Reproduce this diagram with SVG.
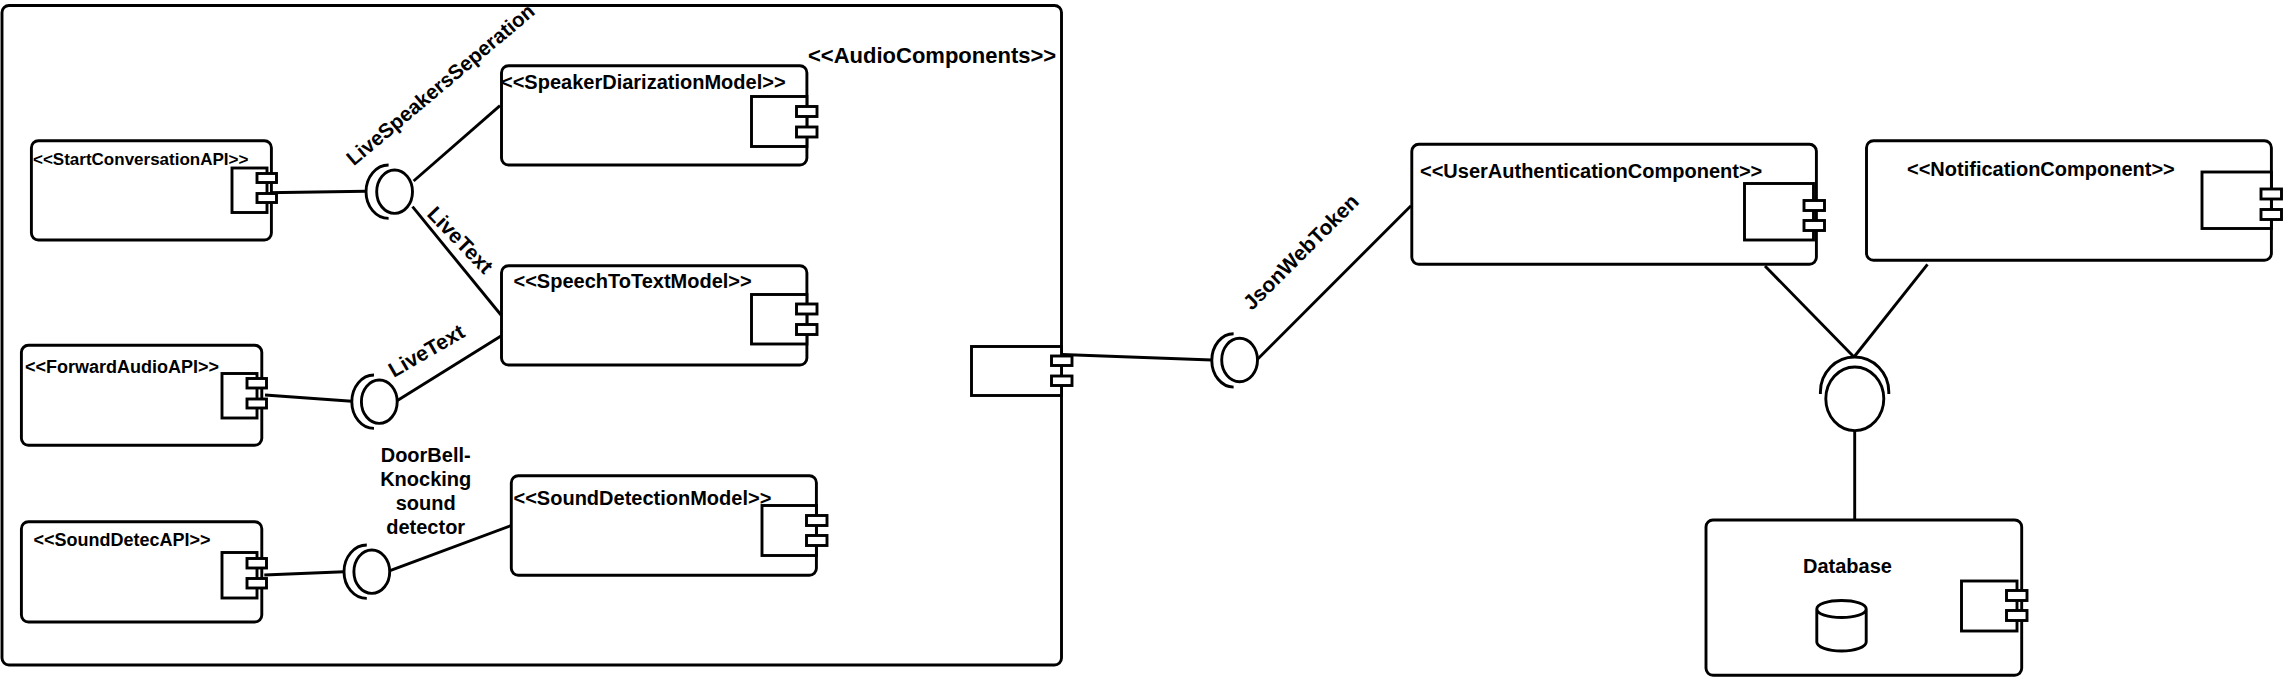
<svg xmlns="http://www.w3.org/2000/svg" width="2283" height="677" viewBox="0 0 2283 677">
<style>
rect,ellipse,path,line{stroke:#000;stroke-width:2.9;fill:#fff}
path.o{fill:none}
text{font-family:"Liberation Sans",Arial,sans-serif;font-weight:bold;font-size:20px;fill:#000}
.s{font-size:18px}
.xs{font-size:17px}
.l{font-size:22px}
.r{font-size:21px}
.m{text-anchor:middle}
</style>
<rect width="2283" height="677" style="fill:#fff;stroke:none"/>
<g id="AudioComponents">
<rect x="2" y="5.5" width="1059.5" height="659.5" rx="7"/>
<rect x="971.5" y="346.5" width="90" height="49"/>
<rect x="1051.5" y="356" width="20.5" height="9.5"/>
<rect x="1051.5" y="376" width="20.5" height="9.5"/>
<text class="l" x="808" y="62.5">&lt;&lt;AudioComponents&gt;&gt;</text>
</g>
<g id="connectors">
<line x1="266" y1="192.7" x2="366" y2="191.3"/>
<line x1="413.6" y1="181" x2="500" y2="105.7"/>
<line x1="412.5" y1="206.7" x2="501" y2="315"/>
<line x1="265" y1="395" x2="351.8" y2="401.3"/>
<line x1="397" y1="400.7" x2="501" y2="336"/>
<line x1="264.3" y1="575" x2="344" y2="571.7"/>
<line x1="390" y1="570.7" x2="510.7" y2="525.7"/>
<line x1="1062" y1="354.5" x2="1211.8" y2="360"/>
<line x1="1257.5" y1="359.3" x2="1411" y2="205.7"/>
<line x1="1765" y1="266" x2="1854" y2="357"/>
<line x1="1927.5" y1="264.3" x2="1854" y2="357"/>
<line x1="1854.7" y1="430" x2="1854.7" y2="520"/>
</g>
<g id="StartConversationAPI">
<rect x="31.4" y="140.7" width="240" height="99.3" rx="7"/>
<rect x="232" y="168" width="35" height="44.5"/>
<rect x="257" y="173.5" width="19.5" height="9"/>
<rect x="257" y="193.5" width="19.5" height="9"/>
<text class="xs" x="33" y="165">&lt;&lt;StartConversationAPI&gt;&gt;</text>
</g>
<g id="ForwardAudioAPI">
<rect x="21.4" y="345.3" width="240.4" height="100" rx="7"/>
<rect x="222" y="373.5" width="35" height="44.5"/>
<rect x="247" y="378.5" width="19.5" height="9.5"/>
<rect x="247" y="399" width="19.5" height="9"/>
<text class="s" x="25" y="372.7">&lt;&lt;ForwardAudioAPI&gt;&gt;</text>
</g>
<g id="SoundDetecAPI">
<rect x="21.4" y="521.7" width="240.4" height="100.3" rx="7"/>
<rect x="222" y="552.5" width="35" height="45.5"/>
<rect x="247" y="558.5" width="19.5" height="9.5"/>
<rect x="247" y="578.5" width="19.5" height="9.5"/>
<text class="s" x="33.5" y="546">&lt;&lt;SoundDetecAPI&gt;&gt;</text>
</g>
<g id="SpeakerDiarizationModel">
<rect x="501.5" y="65.7" width="305.4" height="99.3" rx="7"/>
<rect x="751.5" y="96.5" width="55.4" height="50"/>
<rect x="796.5" y="106.5" width="20.5" height="10"/>
<rect x="796.5" y="127" width="20.5" height="10"/>
<text x="501" y="89.3">&lt;&lt;SpeakerDiarizationModel&gt;&gt;</text>
</g>
<g id="SpeechToTextModel">
<rect x="501.5" y="265.7" width="305.4" height="99.3" rx="7"/>
<rect x="751.5" y="294.5" width="55.4" height="49.5"/>
<rect x="796.5" y="304" width="20.5" height="10"/>
<rect x="796.5" y="324.5" width="20.5" height="10"/>
<text x="513.5" y="288.3">&lt;&lt;SpeechToTextModel&gt;&gt;</text>
</g>
<g id="SoundDetectionModel">
<rect x="511.3" y="475.7" width="305.1" height="99.6" rx="7"/>
<rect x="762" y="505.5" width="54.4" height="50"/>
<rect x="806.5" y="515.5" width="20.5" height="10"/>
<rect x="806.5" y="535.5" width="20.5" height="10"/>
<text x="513.5" y="505">&lt;&lt;SoundDetectionModel&gt;&gt;</text>
</g>
<g id="LiveSpeakersSeperationInterface">
<ellipse cx="394.6" cy="191.7" rx="17.9" ry="21.7"/>
<path class="o" d="M388.6 165A22.6 26.7 0 0 0 388.6 218.4"/>
</g>
<g id="LiveTextInterface">
<ellipse cx="379.3" cy="401.7" rx="17.9" ry="21.7"/>
<path class="o" d="M374 375A22.2 26.7 0 0 0 374 428.4"/>
</g>
<g id="DoorBellInterface">
<ellipse cx="371.8" cy="571.7" rx="17.9" ry="21.7"/>
<path class="o" d="M366.8 545A22.8 26.7 0 0 0 366.8 598.4"/>
</g>
<g id="JsonWebTokenInterface">
<ellipse cx="1239.6" cy="360" rx="17.9" ry="21.7"/>
<path class="o" d="M1233.6 333.7A21.8 26.7 0 0 0 1233.6 387.1"/>
</g>
<g id="DatabaseInterface">
<ellipse cx="1854.8" cy="398.8" rx="29" ry="31.8"/>
<path class="o" d="M1820.4 394V392A34.2 35 0 0 1 1888.8 392V394"/>
</g>
<g id="UserAuthenticationComponent">
<rect x="1411.8" y="144.3" width="404.6" height="120" rx="7"/>
<rect x="1744.5" y="183.5" width="69" height="56.5"/>
<rect x="1804" y="200.5" width="20.5" height="10"/>
<rect x="1804" y="220.5" width="20.5" height="10"/>
<text x="1420" y="178.3">&lt;&lt;UserAuthenticationComponent&gt;&gt;</text>
</g>
<g id="NotificationComponent">
<rect x="1866.5" y="140.7" width="404.9" height="119.6" rx="7"/>
<rect x="2202" y="172" width="69.4" height="56.5"/>
<rect x="2261" y="189" width="20.5" height="10"/>
<rect x="2261" y="209.5" width="20.5" height="10"/>
<text x="1907" y="175.7">&lt;&lt;NotificationComponent&gt;&gt;</text>
</g>
<g id="Database">
<rect x="1706" y="520" width="315.7" height="155.3" rx="7"/>
<rect x="1961.5" y="581" width="55.5" height="50"/>
<rect x="2006.5" y="590.5" width="20.5" height="10"/>
<rect x="2006.5" y="610.5" width="20.5" height="10"/>
<text x="1803" y="572.7">Database</text>
<path d="M1816.8 609V642C1816.8 647 1828 651 1841.5 651S1866.2 647 1866.2 642V609C1866.2 604 1855 600.5 1841.5 600.5S1816.8 604 1816.8 609C1816.8 614 1828 617.5 1841.5 617.5S1866.2 614 1866.2 609"/>
</g>
<g id="labels">
<text class="m" style="font-size:20.5px" transform="translate(445 90) rotate(-40)">LiveSpeakersSeperation</text>
<text class="m r" transform="translate(455 245) rotate(46)">LiveText</text>
<text class="m r" transform="translate(430 357) rotate(-30)">LiveText</text>
<text class="m r" transform="translate(1306 257) rotate(-45)">JsonWebToken</text>
<text class="m" x="425.7" y="461.7">DoorBell-</text>
<text class="m" x="425.7" y="485.7">Knocking</text>
<text class="m" x="425.7" y="510">sound</text>
<text class="m" x="425.7" y="533.5">detector</text>
</g>
</svg>
